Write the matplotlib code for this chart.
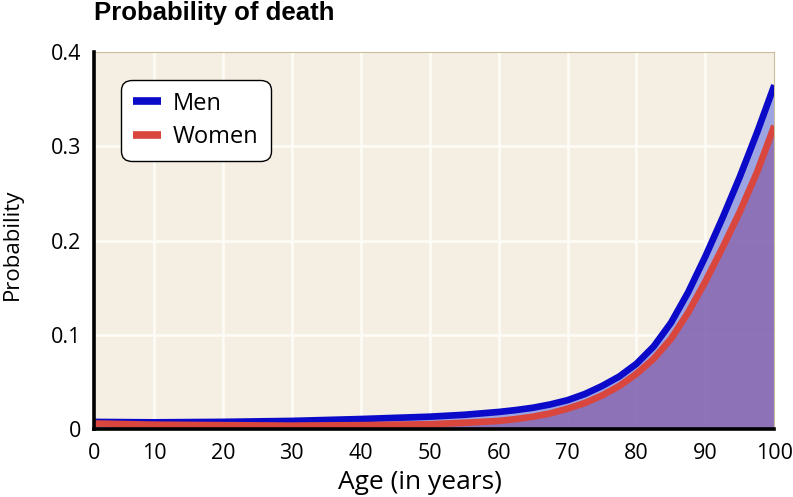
import matplotlib.pyplot as plt

# Values
ages = [0, 10, 20, 30, 40, 50, 55, 60, 62.5, 65, 67.5, 70, 72.5, 75, 77.5, 80,
        82.5, 85, 87.5, 90, 92.5, 95, 97.5, 100]
men = [0.008, 0.0075, 0.008, 0.009, 0.011, 0.0135, 0.0155, 0.0185, 0.0205, 0.023,
       0.0265, 0.031, 0.0375, 0.046, 0.0561, 0.0696, 0.088, 0.113, 0.1455, 0.1836,
       0.2246, 0.2681, 0.315, 0.365]
women = [0.0065, 0.005, 0.0045, 0.004, 0.0045, 0.0055, 0.007, 0.009, 0.011, 0.0135,
         0.017, 0.022, 0.028, 0.036, 0.046, 0.059, 0.075, 0.096, 0.124, 0.157,
         0.193, 0.231, 0.273, 0.322]
x_ticks = [0, 10, 20, 30, 40, 50, 60, 70, 80, 90, 100]
y_ticks = [0, 0.1, 0.2, 0.3, 0.4]
y_tick_labels = ["0", "0.1", "0.2", "0.3", "0.4"]

plt.rcParams["font.family"] = ["Open Sans", "DejaVu Sans"]

fig = plt.figure(figsize=(7.93, 4.97), dpi=100)
ax = fig.add_axes([0.1185, 0.136, 0.858, 0.759])
ax.set_facecolor("#f4eee3")

# the original axis starts a little after 0, with the "0" label on the spine
x_left = 1.3
ax.set_xlim(x_left, 100)
ax.set_ylim(0, 0.4)

for t in x_ticks[1:-1]:
    ax.axvline(t, color="#fdfbf5", lw=2, zorder=1)
for t in y_ticks[1:-1]:
    ax.axhline(t, color="#fdfbf5", lw=2, zorder=1)

ax.fill_between(ages, women, men, color="#949ce2", alpha=0.9, zorder=2, lw=0)
ax.fill_between(ages, 0, women, color="#8265b3", alpha=0.9, zorder=2, lw=0)
ax.plot(ages, men, color="#0a0ac8", lw=4.8, label="Men", zorder=3,
        solid_capstyle="butt", solid_joinstyle="round")
ax.plot(ages, women, color="#d8463e", lw=4.8, label="Women", zorder=4,
        solid_capstyle="butt", solid_joinstyle="round")

ax.set_xticks([x_left] + x_ticks[1:])
ax.set_xticklabels([str(t) for t in x_ticks])
ax.set_yticks(y_ticks)
ax.set_yticklabels(y_tick_labels)
ax.tick_params(axis="both", length=0, labelsize=15.5)
ax.tick_params(axis="x", pad=10)
ax.tick_params(axis="y", pad=9)

for side in ["left", "bottom"]:
    ax.spines[side].set_color("black")
    ax.spines[side].set_linewidth(2.6)
    ax.spines[side].set_zorder(5)
for side in ["top", "right"]:
    ax.spines[side].set_color("#cbbf9c")
    ax.spines[side].set_linewidth(0.8)

ax.set_xlabel("Age (in years)", fontsize=19, labelpad=4)
ax.xaxis.label.set_x(0.479)
ax.set_ylabel("Probability", fontsize=16)
ax.yaxis.set_label_coords(-0.104, 0.49)

leg = ax.legend(loc="upper left", bbox_to_anchor=(0.04, 0.927), fontsize=17,
                frameon=True, fancybox=True, handlelength=1.2, handletextpad=0.5,
                borderpad=0.5, labelspacing=0.42, borderaxespad=0)
frame = leg.get_frame()
frame.set_edgecolor("black")
frame.set_facecolor("white")
frame.set_alpha(1)
frame.set_linewidth(1.0)
frame.set_boxstyle("round", pad=0, rounding_size=0.45)
for line in leg.get_lines():
    line.set_linewidth(5.5)
    line.set_solid_capstyle("butt")

fig.text(0.119, 0.973, "Probability of death", fontsize=18.5, fontweight="bold",
         family=["Liberation Sans", "DejaVu Sans"], ha="left", va="center")

fig.savefig("out.png", dpi=100)
